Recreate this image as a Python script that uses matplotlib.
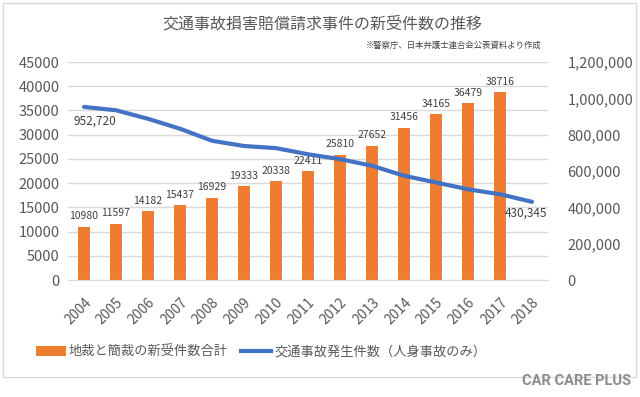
import matplotlib.pyplot as plt
from matplotlib.patches import Rectangle, Patch
from matplotlib.lines import Line2D

plt.rcParams['font.family'] = ['Noto Sans CJK JP', 'DejaVu Sans']

years = ['2004', '2005', '2006', '2007', '2008', '2009', '2010', '2011',
         '2012', '2013', '2014', '2015', '2016', '2017', '2018']
cases = [10980, 11597, 14182, 15437, 16929, 19333, 20338, 22411,
         25810, 27652, 31456, 34165, 36479, 38716, None]
accidents = [952720, 934339, 887267, 832704, 766394, 737628, 725924, 692084,
             665157, 629033, 573842, 536899, 499201, 472165, 430345]

title = '交通事故損害賠償請求事件の新受件数の推移'
source = '※警察庁、日本弁護士連合会公表資料より作成'
bar_name = '地裁と簡裁の新受件数合計'
line_name = '交通事故発生件数（人身事故のみ）'

orange = '#ED7D31'
blue = '#4472C4'
grey = '#595959'
grid = '#D9D9D9'

fig = plt.figure(figsize=(6.4, 3.97), dpi=100)
ax = fig.add_axes([68/640, 1-280/397, 480/640, 218/397])
ax2 = ax.twinx()

x = list(range(len(years)))
bx = [i for i, v in zip(x, cases) if v is not None]
bv = [v for v in cases if v is not None]
ax.bar(bx, bv, width=0.4, color=orange, zorder=2)
for i, v in zip(bx, bv):
    ax.annotate(str(v), (i, v), xytext=(0, 4), textcoords='offset points',
                ha='center', va='bottom', fontsize=7.5, color='#404040')

ax.set_xlim(-0.5, len(years) - 0.5)
ax.set_ylim(0, 45000)
ax.set_yticks(range(0, 45001, 5000))
ax.grid(axis='y', color=grid, linewidth=1, zorder=0)
ax.set_axisbelow(True)
ax.set_xticks(x)
ax.set_xticklabels(years, rotation=45, ha='right', rotation_mode='anchor')
ax.tick_params(axis='both', length=0, colors=grey, labelsize=10.5, pad=6)
ax.tick_params(axis='x', labelsize=10, pad=11)
for s in ['top', 'left', 'right']:
    ax.spines[s].set_visible(False)
ax.spines['bottom'].set_color(grid)

ax2.plot(x, accidents, color=blue, linewidth=3, solid_capstyle='round',
         solid_joinstyle='round', zorder=3)
ax2.set_ylim(0, 1200000)
ax2.set_yticks(range(0, 1200001, 200000))
ax2.set_yticklabels([f'{v:,}' for v in range(0, 1200001, 200000)])
ax2.tick_params(axis='y', length=0, colors=grey, labelsize=10.5, pad=14)
for s in ['top', 'left', 'right', 'bottom']:
    ax2.spines[s].set_visible(False)

ax2.annotate(f'{accidents[0]:,}', (x[0], accidents[0]), xytext=(8, -10),
             textcoords='offset points', ha='center', va='center',
             fontsize=8.5, color='#404040')
ax2.annotate(f'{accidents[-1]:,}', (x[-1], accidents[-1]), xytext=(-4, -8),
             textcoords='offset points', ha='center', va='center',
             fontsize=8.5, color='#404040')

fig.text(322/640, 1-24/397, title, ha='center', va='center',
         fontsize=11.5, color=grey)
fig.text(542/640, 1-45/397, source, ha='right', va='center',
         fontsize=6, color='#404040')

handles = [Patch(facecolor=orange, edgecolor='none'),
           Line2D([], [], color=blue, linewidth=3)]
fig.legend(handles, [bar_name, line_name], loc='center',
           bbox_to_anchor=(261/640, 1-352/397), ncol=2, frameon=False,
           fontsize=9.5, labelcolor=grey, handlelength=2.3, handletextpad=0.2,
           columnspacing=1.0)

fig.add_artist(Rectangle((3/640, 1-377/397), 633/640, 374/397,
                         transform=fig.transFigure, fill=False,
                         edgecolor=grid, linewidth=1))
fig.text(631/640, 1-381/397, 'CAR CARE PLUS', ha='right', va='center',
         fontsize=10.5, fontweight='bold', color='#8C8C8C', family='Roboto')

fig.savefig('out.png', dpi=100)
